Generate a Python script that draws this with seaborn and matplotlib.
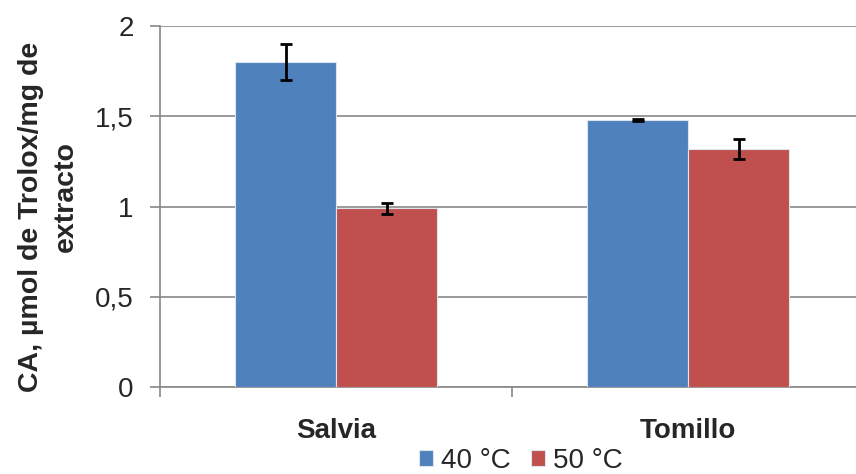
import matplotlib
matplotlib.use("Agg")
import matplotlib.pyplot as plt
import seaborn as sns
import pandas as pd

sns.set_theme(style="white")
plt.rcParams["font.family"] = ["Liberation Sans", "DejaVu Sans"]

categories = ["Salvia", "Tomillo"]
temperatures = ["40 °C", "50 °C"]
values_40 = [1.80, 1.48]
values_50 = [0.99, 1.32]
err_40 = [0.10, 0.005]
err_50 = [0.03, 0.055]
yticks = [0, 0.5, 1, 1.5, 2]
ytick_labels = ["0", "0,5", "1", "1,5", "2"]
colors = ["#4F81BD", "#C0504D"]
ylabel_lines = ["CA, µmol de Trolox/mg de", "extracto"]

df = pd.DataFrame({
    "Planta": categories * 2,
    "Temperatura": [temperatures[0]] * 2 + [temperatures[1]] * 2,
    "CA": values_40 + values_50,
    "err": err_40 + err_50,
})

fig = plt.figure(figsize=(8.56, 4.74), dpi=100)
ax = fig.add_axes([0.187, 0.1835, 0.8224, 0.7615])

sns.barplot(data=df, x="Planta", y="CA", hue="Temperatura", order=categories,
            hue_order=temperatures, palette=colors, width=0.574, errorbar=None,
            edgecolor="#DDE4EE", linewidth=0.8, saturation=1, ax=ax, zorder=3)

# error bars centred on each drawn bar
for i, temp in enumerate(temperatures):
    container = ax.containers[i]
    sub = df[df["Temperatura"] == temp].set_index("Planta").loc[categories]
    xs = [p.get_x() + p.get_width() / 2 for p in container.patches]
    ax.errorbar(xs, sub["CA"].values, yerr=sub["err"].values, fmt="none",
                ecolor="black", elinewidth=2, capsize=4.5, capthick=2, zorder=5)

ax.set_ylim(0, 2)
ax.set_xlim(-0.5, 1.5)
ax.set_yticks(yticks)
ax.set_yticklabels(ytick_labels)
ax.yaxis.grid(True, color="#888888", linewidth=1.2, zorder=0)
ax.set_axisbelow(True)

for side in ["top", "right"]:
    ax.spines[side].set_visible(False)
for side in ["left", "bottom"]:
    ax.spines[side].set_color("#888888")
    ax.spines[side].set_linewidth(1.2)

ax.tick_params(axis="y", left=True, length=7, width=1.2, color="#888888",
               labelsize=20, pad=12)
ax.set_xticks([0, 1])
ax.set_xticklabels(categories, fontsize=20, fontweight="bold")
ax.tick_params(axis="x", bottom=False, pad=16)
# category boundary ticks
ax.set_xticks([-0.5, 0.5, 1.5], minor=True)
ax.tick_params(axis="x", which="minor", bottom=True, length=7, width=1.2,
               color="#888888")

# wrapped y-axis title: first line as the axis label, wrapped word beside it
ax.set_xlabel("")
ax.set_ylabel(ylabel_lines[0], fontsize=20.5, fontweight="bold")
ax.yaxis.set_label_coords(-0.165, 0.471)
ax.text(-0.116, 0.529, ylabel_lines[1], transform=ax.transAxes, rotation=90,
        ha="center", va="bottom", rotation_mode="anchor", fontsize=20.5,
        fontweight="bold")

ax.legend(handles=ax.containers[0].patches[:1] + ax.containers[1].patches[:1],
          labels=temperatures, loc="center", bbox_to_anchor=(0.513, -0.205),
          ncol=2, frameon=False, fontsize=20, handlelength=0.5,
          handleheight=0.5, handletextpad=0.3, columnspacing=0.72,
          borderaxespad=0)

fig.savefig("out.png", dpi=100)
